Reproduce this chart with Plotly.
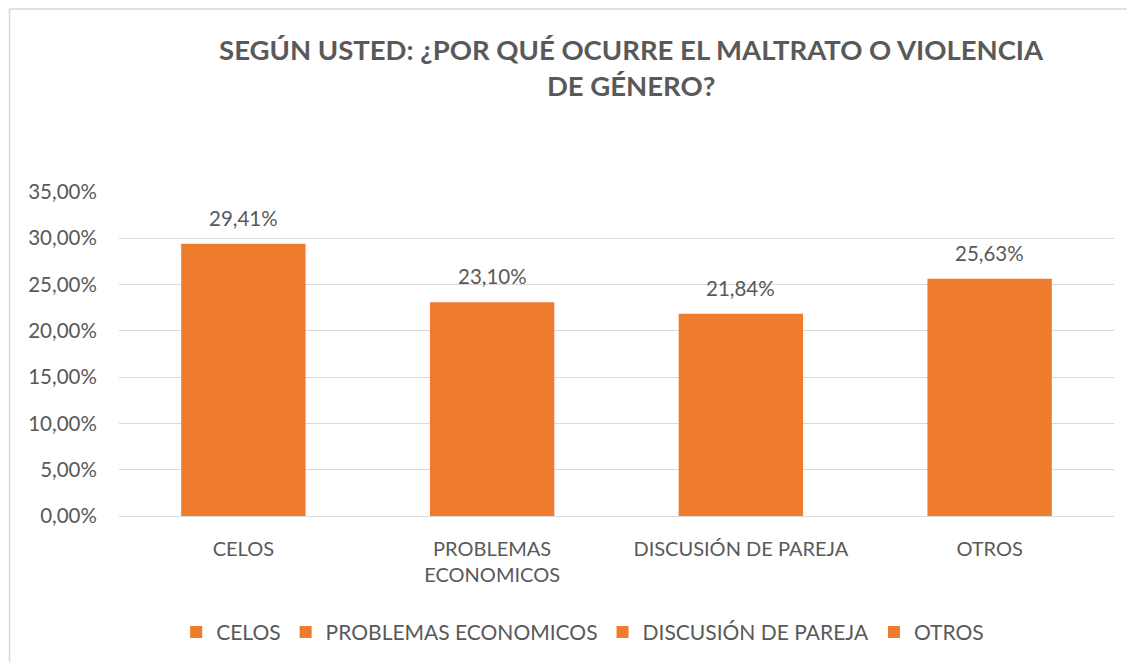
import plotly.graph_objects as go

categories = ["CELOS", "PROBLEMAS ECONOMICOS", "DISCUSIÓN DE PAREJA", "OTROS"]
axis_labels = ["CELOS", "PROBLEMAS<br>ECONOMICOS", "DISCUSIÓN DE PAREJA", "OTROS"]
values = [29.41, 23.10, 21.84, 25.63]
tick_vals = [0, 5, 10, 15, 20, 25, 30, 35]
tick_text = ["0,00%", "5,00%", "10,00%", "15,00%", "20,00%", "25,00%", "30,00%", "35,00%"]

ORANGE = "#EF7B2D"
GREY = "#595959"
FONT = "Lato"

fig = go.Figure()

# una traccia per categoria, cosi la legenda mostra tutte e quattro
for cat, lab, val in zip(categories, axis_labels, values):
    fig.add_trace(go.Bar(
        name=cat,
        x=[lab],
        y=[val],
        width=0.5,
        marker=dict(color=ORANGE, line=dict(width=0)),
        cliponaxis=False,
    ))

# etichette dei valori sopra le barre
for lab, val in zip(axis_labels, values):
    fig.add_annotation(
        x=lab, y=val,
        text=f"{val:.2f}%".replace(".", ","),
        showarrow=False,
        yanchor="bottom", yshift=12,
        font=dict(size=20.5, color=GREY, family=FONT),
    )

fig.update_layout(
    width=1135,
    height=662,
    paper_bgcolor="white",
    plot_bgcolor="white",
    barmode="overlay",
    title=dict(
        text="<b>SEGÚN USTED: ¿POR QUÉ OCURRE EL MALTRATO O VIOLENCIA<br>DE GÉNERO?</b>",
        x=0.549, xanchor="center",
        y=0.921, yanchor="top",
        font=dict(size=27.5, color=GREY, family=FONT),
    ),
    font=dict(family=FONT, color=GREY),
    margin=dict(l=111, r=29, t=184, b=154),
    legend=dict(
        orientation="h",
        x=0.466, xanchor="center",
        y=-0.296, yanchor="top",
        font=dict(size=21, color=GREY, family=FONT),
        itemwidth=30,
        traceorder="normal",
    ),
    xaxis=dict(
        categoryorder="array",
        categoryarray=axis_labels,
        tickfont=dict(size=20, color=GREY, family=FONT),
        showline=True, linecolor="#D9D9D9", linewidth=1,
        ticks="outside", ticklen=15, tickcolor="rgba(0,0,0,0)",
    ),
    yaxis=dict(
        range=[0, 35],
        tickvals=tick_vals,
        ticktext=tick_text,
        tickfont=dict(size=20.5, color=GREY, family=FONT),
        gridcolor="#D9D9D9",
        zeroline=False,
        ticks="outside", ticklen=17, tickcolor="rgba(0,0,0,0)",
    ),
    shapes=[dict(
        type="rect", xref="paper", yref="paper",
        x0=-0.110, x1=1.035, y0=-0.49, y1=1.565,
        line=dict(color="#D9D9D9", width=1.5),
        fillcolor="rgba(0,0,0,0)",
    )],
)

fig.write_html("out.html")
